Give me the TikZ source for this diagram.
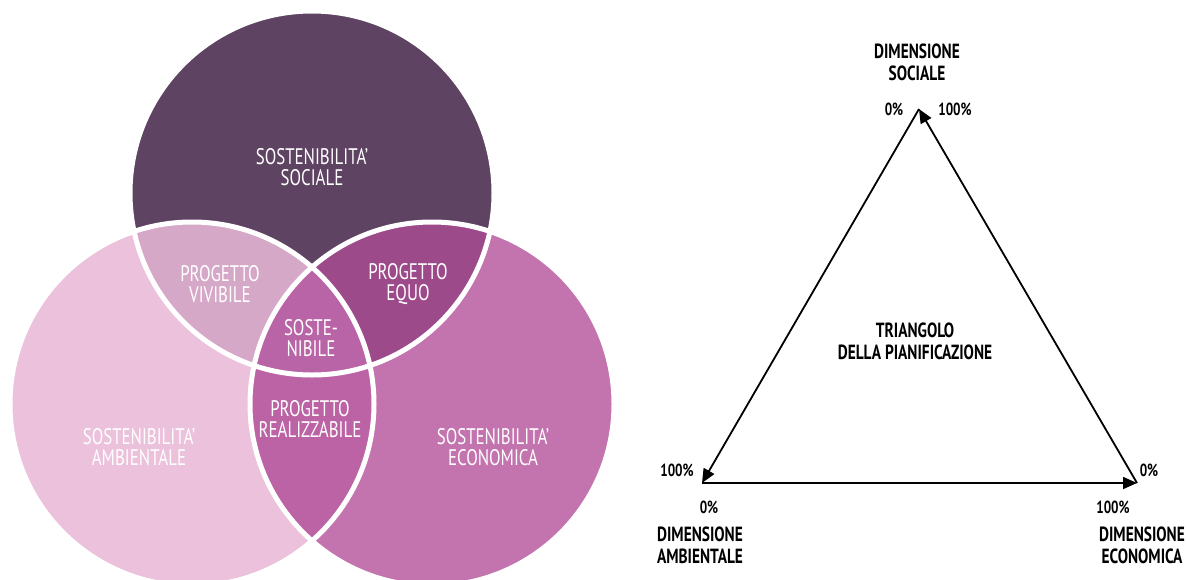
\documentclass[tikz,border=0pt]{standalone}
\usepackage{fontspec}
\setmainfont{PT Sans}[FakeStretch=0.75]
\usetikzlibrary{arrows.meta,positioning}
\definecolor{socialcol}{HTML}{5E4362}
\definecolor{ambcol}{HTML}{EBC1DC}
\definecolor{ecocol}{HTML}{C373AE}
\definecolor{vivcol}{HTML}{D6A8C8}
\definecolor{equocol}{HTML}{9D4A8B}
\definecolor{realcol}{HTML}{BC63A5}
\definecolor{sostcol}{HTML}{B964A6}
\tikzset{
  vtext/.style={text=white,align=center,font=\fontsize{22.5}{21}\selectfont},
  ttext/.style={text=black,align=center,font=\fontsize{20.5}{22}\selectfont\bfseries},
  pct/.style={text=black,font=\fontsize{17.5}{18}\selectfont\bfseries},
  arr/.style={-{Triangle[length=14pt,width=12pt]},line width=1.8pt}
}

\begin{document}
\begin{tikzpicture}[x=1pt,y=-1pt]
    \useasboundingbox (0,0) rectangle (1186,579);
    % Venn centres
    \coordinate (cS) at (312,193);
    \coordinate (cA) at (192,404);
    \coordinate (cE) at (432,404);

    % Circles
    \fill[ambcol] (cA) circle[radius=182pt];
    \fill[ecocol] (cE) circle[radius=182pt];
    \fill[socialcol] (cS) circle[radius=182pt];

    % Overlaps
    \begin{scope}
        \clip (cS) circle[radius=182pt];
        \fill[vivcol] (cA) circle[radius=182pt];
        \fill[equocol] (cE) circle[radius=182pt];
    \end{scope}
    \begin{scope}
        \clip (cA) circle[radius=182pt];
        \fill[realcol] (cE) circle[radius=182pt];
        \clip (cS) circle[radius=182pt];
        \fill[sostcol] (cE) circle[radius=182pt];
    \end{scope}

    % White borders
    \foreach \c in {cA,cE,cS}
        \draw[white,line width=5pt] (\c) circle[radius=182pt];

    % Venn labels
    \node[vtext] (sociale) at (312,167) {SOSTENIBILITA'\\SOCIALE};
    \node[vtext] (vivibile) at (220,284) {PROGETTO\\VIVIBILE};
    \node[vtext] (equo) at (408,284) {PROGETTO\\EQUO};
    \node[vtext] (sostenibile) at (311,338) {SOSTE-\\NIBILE};
    \node[vtext] (realizz) at (310,419) {PROGETTO\\REALIZZABILE};
    \node[vtext] (ambientale) at (139,447) {SOSTENIBILITA'\\AMBIENTALE};
    \node[vtext] (economica) at (493,447) {SOSTENIBILITA'\\ECONOMICA};

    % Triangle corners
    \coordinate (apx) at (919,109);
    \coordinate (bL) at (702,483);
    \coordinate (bR) at (1137,483);

    % Triangle sides
    \draw[arr] (bR) -- (apx);
    \draw[arr] (apx) -- (bL);
    \draw[arr] (bL) -- (bR);

    % Triangle labels
    \node[ttext] (soc) at (917,62) {DIMENSIONE\\SOCIALE};
    \node[ttext] (amb) at (700,545) {DIMENSIONE\\AMBIENTALE};
    \node[ttext] (eco) at (1142,545) {DIMENSIONE\\ECONOMICA};
    \node[ttext] (tri) at (915,341) {TRIANGOLO\\DELLA PIANIFICAZIONE};

    % Percentages
    \node[pct] (pS0) at (894,109) {0\%};
    \node[pct] (pS1) at (955,109) {100\%};
    \node[pct] (pA1) at (677,470) {100\%};
    \node[pct] (pA0) at (709,507) {0\%};
    \node[pct] (pE0) at (1149,470) {0\%};
    \node[pct] (pE1) at (1113,507) {100\%};
\end{tikzpicture}
\end{document}
